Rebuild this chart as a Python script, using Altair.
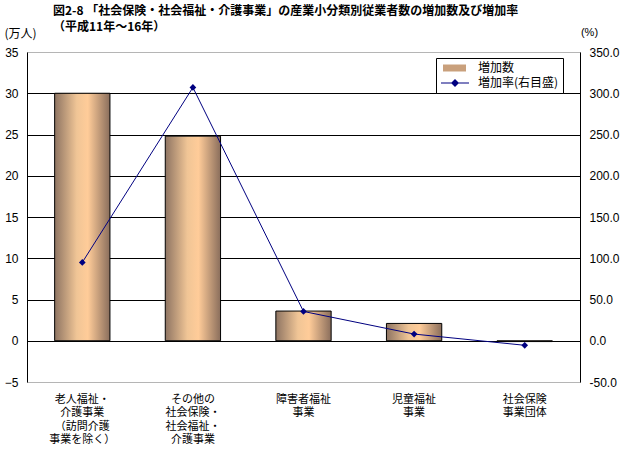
import altair as alt
import pandas as pd

# ---- data ----
categories = [
    "老人福祉・|介護事業|（訪問介護|事業を除く）",
    "その他の|社会保険・|社会福祉・|介護事業",
    "障害者福祉|事業",
    "児童福祉|事業",
    "社会保険|事業団体",
]
increase = [30.0, 24.8, 3.6, 2.1, -0.1]      # 万人 (left axis)
rate = [95.0, 307.0, 35.5, 8.1, -5.5]        # % (right axis)
series_names = ["増加数", "増加率(右目盛)"]
left_ticks = [-5, 0, 5, 10, 15, 20, 25, 30, 35]
right_ticks = [-50, 0, 50, 100, 150, 200, 250, 300, 350]

title_lines = [
    "図2-8 「社会保険・社会福祉・介護事業」の産業小分類別従業者数の増加数及び増加率",
    "\u3000 （平成11年～16年）",
]

df = pd.DataFrame({"cat": categories, "inc": increase, "rate": rate})
legend_df = pd.DataFrame({"series": series_names})

FONT = "Liberation Sans, Noto Sans CJK JP"
JFONT = "Noto Sans CJK JP"
NAVY = "#000080"

bar_gradient = alt.Gradient(
    gradient="linear",
    x1=0, x2=1, y1=0, y2=0,
    stops=[
        alt.GradientStop(offset=0, color="#8e7462"),
        alt.GradientStop(offset=0.4, color="#f0c596"),
        alt.GradientStop(offset=0.6, color="#ffcc99"),
        alt.GradientStop(offset=1, color="#8a6e5c"),
    ],
)

x_enc = alt.X(
    "cat:N",
    sort=categories,
    scale=alt.Scale(paddingInner=0.5, paddingOuter=0.25),
    axis=alt.Axis(
        title=None,
        labelExpr="split(datum.label, '|')",
        labelAngle=0,
        domain=False,
        ticks=False,
        labelPadding=11,
        labelBaseline="top",
        labelLineHeight=13.5,
        labelFontSize=11,
        labelFont=JFONT,
        labelColor="black",
    ),
)

bars = alt.Chart(df).mark_bar(
    color=bar_gradient, stroke="black", strokeWidth=1
).encode(
    x=x_enc,
    y=alt.Y(
        "inc:Q",
        scale=alt.Scale(domain=[-5, 35], nice=False, zero=False),
        axis=alt.Axis(
            values=left_ticks,
            title="(万人)",
            titleAngle=0,
            titleX=-7,
            titleY=-19,
            titleAlign="center",
            titleBaseline="middle",
            titleFont=JFONT,
            titleFontSize=12,
            titleFontWeight="normal",
            titleColor="black",
            labelFont=FONT,
            labelFontSize=12,
            labelColor="black",
            labelPadding=9,
            ticks=False,
            domainColor="black",
            domainWidth=1,
            grid=True,
            gridColor={
                "condition": {"test": "datum.value == 35 || datum.value == -5", "value": "#8c8c8c"},
                "value": "black",
            },
            gridDash={
                "condition": {"test": "datum.value == 35 || datum.value == -5", "value": [1, 1]},
                "value": [],
            },
            gridWidth=1,
            gridOpacity=1,
        ),
    ),
)

line = alt.Chart(df).mark_line(
    color=NAVY,
    strokeWidth=1,
    point=alt.OverlayMarkDef(shape="diamond", filled=True, size=45, color=NAVY),
).encode(
    x=alt.X("cat:N", sort=categories),
    y=alt.Y(
        "rate:Q",
        scale=alt.Scale(domain=[-50, 350], nice=False, zero=False),
        axis=alt.Axis(
            orient="right",
            values=right_ticks,
            labelExpr="replace(format(datum.value, '.1f'), '\u2212', '-')",
            title="(%)",
            titleAngle=0,
            titleX=9,
            titleY=-20,
            titleAlign="center",
            titleBaseline="middle",
            titleFont=FONT,
            titleFontSize=11,
            titleFontWeight="normal",
            titleColor="black",
            labelFont=FONT,
            labelFontSize=12,
            labelColor="black",
            labelPadding=9,
            ticks=False,
            grid=False,
            domainColor="black",
            domainWidth=1,
        ),
    ),
)

rect_path = "M-0.6,-0.7H4.0V0.7H-0.6Z"
line_path = "M-1,-0.1H4.6V0.1H-1Z M1.8,-0.8L2.6,0L1.8,0.8L1.0,0Z"

legend_def = alt.Legend(
    title=None,
    orient="none",
    legendX=409,
    legendY=6,
    strokeColor="black",
    fillColor="white",
    padding=4,
    rowPadding=3,
    symbolSize=100,
    symbolStrokeWidth=0,
    symbolOpacity=1,
    labelOffset=26,
    labelFont=JFONT,
    labelFontSize=12,
    labelColor="black",
    cornerRadius=0,
)

legend_layer = alt.Chart(legend_df).mark_point(
    filled=True, opacity=0, size=100
).encode(
    color=alt.Color(
        "series:N",
        scale=alt.Scale(domain=series_names, range=["#c9a07c", NAVY]),
        legend=legend_def,
    ),
    shape=alt.Shape(
        "series:N",
        scale=alt.Scale(domain=series_names, range=[rect_path, line_path]),
        legend=legend_def,
    ),
)

chart = alt.layer(bars, line, legend_layer).resolve_scale(
    y="independent"
).properties(
    width=553,
    height=330,
    padding={"left": 27, "top": 52, "right": 41, "bottom": 72},
    autosize=alt.AutoSizeParams(type="none"),
    title=alt.TitleParams(
        text=title_lines,
        anchor="start",
        frame="group",
        dx=26,
        offset=-8,
        font=JFONT,
        fontSize=12,
        fontWeight="bold",
        lineHeight=16,
        color="black",
    ),
).configure_view(
    stroke=None
).configure(
    background="white"
)

chart.save("out.html", embed_options={"renderer": "svg", "actions": False})
